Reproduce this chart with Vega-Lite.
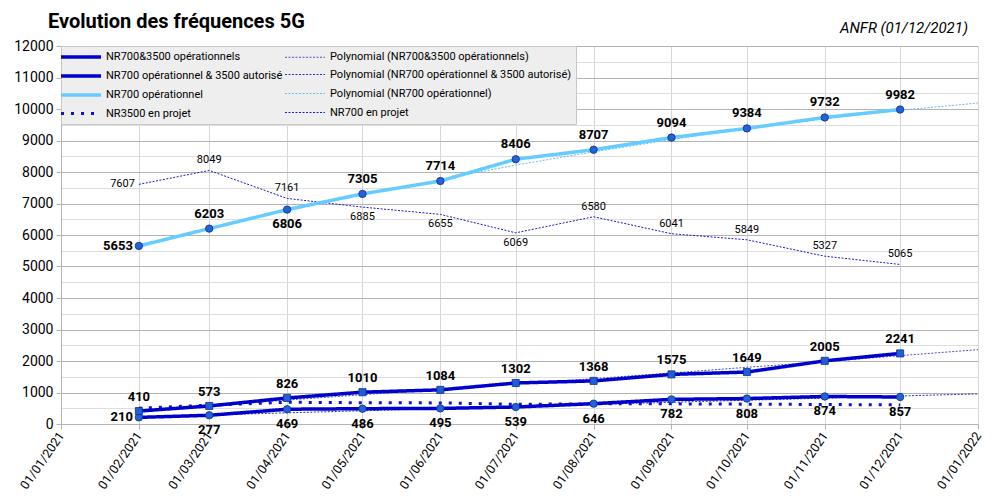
{
  "$schema": "https://vega.github.io/schema/vega-lite/v6.json",
  "width": 917,
  "height": 378,
  "autosize": {"type": "none"},
  "padding": {"left": 61, "top": 46, "right": 25, "bottom": 75},
  "background": "white",
  "config": {
    "view": {"stroke": null},
    "font": "Roboto"
  },
  "title": {
    "text": "Evolution des fréquences 5G",
    "anchor": "start",
    "frame": "group",
    "font": "Roboto",
    "fontSize": 20,
    "fontWeight": "bold",
    "color": "black",
    "dx": -13,
    "offset": -11
  },
  "data": {
    "values": [
      {"d": "2021-02-01", "s": "Polynomial (NR700&3500 opérationnels)", "v": 400},
      {"d": "2021-03-01", "s": "Polynomial (NR700&3500 opérationnels)", "v": 580},
      {"d": "2021-04-01", "s": "Polynomial (NR700&3500 opérationnels)", "v": 760},
      {"d": "2021-05-01", "s": "Polynomial (NR700&3500 opérationnels)", "v": 930},
      {"d": "2021-06-01", "s": "Polynomial (NR700&3500 opérationnels)", "v": 1100},
      {"d": "2021-07-01", "s": "Polynomial (NR700&3500 opérationnels)", "v": 1270},
      {"d": "2021-08-01", "s": "Polynomial (NR700&3500 opérationnels)", "v": 1440},
      {"d": "2021-09-01", "s": "Polynomial (NR700&3500 opérationnels)", "v": 1620},
      {"d": "2021-10-01", "s": "Polynomial (NR700&3500 opérationnels)", "v": 1800},
      {"d": "2021-11-01", "s": "Polynomial (NR700&3500 opérationnels)", "v": 1980},
      {"d": "2021-12-01", "s": "Polynomial (NR700&3500 opérationnels)", "v": 2170},
      {"d": "2022-01-01", "s": "Polynomial (NR700&3500 opérationnels)", "v": 2360},
      {"d": "2021-02-01", "s": "Polynomial (NR700 opérationnel & 3500 autorisé)", "v": 215},
      {"d": "2021-03-01", "s": "Polynomial (NR700 opérationnel & 3500 autorisé)", "v": 285},
      {"d": "2021-04-01", "s": "Polynomial (NR700 opérationnel & 3500 autorisé)", "v": 355},
      {"d": "2021-05-01", "s": "Polynomial (NR700 opérationnel & 3500 autorisé)", "v": 420},
      {"d": "2021-06-01", "s": "Polynomial (NR700 opérationnel & 3500 autorisé)", "v": 490},
      {"d": "2021-07-01", "s": "Polynomial (NR700 opérationnel & 3500 autorisé)", "v": 555},
      {"d": "2021-08-01", "s": "Polynomial (NR700 opérationnel & 3500 autorisé)", "v": 620},
      {"d": "2021-09-01", "s": "Polynomial (NR700 opérationnel & 3500 autorisé)", "v": 690},
      {"d": "2021-10-01", "s": "Polynomial (NR700 opérationnel & 3500 autorisé)", "v": 755},
      {"d": "2021-11-01", "s": "Polynomial (NR700 opérationnel & 3500 autorisé)", "v": 820},
      {"d": "2021-12-01", "s": "Polynomial (NR700 opérationnel & 3500 autorisé)", "v": 890},
      {"d": "2022-01-01", "s": "Polynomial (NR700 opérationnel & 3500 autorisé)", "v": 955},
      {"d": "2021-02-01", "s": "Polynomial (NR700 opérationnel)", "v": 5640},
      {"d": "2021-03-01", "s": "Polynomial (NR700 opérationnel)", "v": 6220},
      {"d": "2021-04-01", "s": "Polynomial (NR700 opérationnel)", "v": 6770},
      {"d": "2021-05-01", "s": "Polynomial (NR700 opérationnel)", "v": 7280},
      {"d": "2021-06-01", "s": "Polynomial (NR700 opérationnel)", "v": 7760},
      {"d": "2021-07-01", "s": "Polynomial (NR700 opérationnel)", "v": 8220},
      {"d": "2021-08-01", "s": "Polynomial (NR700 opérationnel)", "v": 8640},
      {"d": "2021-09-01", "s": "Polynomial (NR700 opérationnel)", "v": 9030},
      {"d": "2021-10-01", "s": "Polynomial (NR700 opérationnel)", "v": 9380},
      {"d": "2021-11-01", "s": "Polynomial (NR700 opérationnel)", "v": 9690},
      {"d": "2021-12-01", "s": "Polynomial (NR700 opérationnel)", "v": 9960},
      {"d": "2022-01-01", "s": "Polynomial (NR700 opérationnel)", "v": 10190},
      {"d": "2021-02-01", "s": "NR700 en projet", "v": 7607},
      {"d": "2021-03-01", "s": "NR700 en projet", "v": 8049},
      {"d": "2021-04-01", "s": "NR700 en projet", "v": 7161},
      {"d": "2021-05-01", "s": "NR700 en projet", "v": 6885},
      {"d": "2021-06-01", "s": "NR700 en projet", "v": 6655},
      {"d": "2021-07-01", "s": "NR700 en projet", "v": 6069},
      {"d": "2021-08-01", "s": "NR700 en projet", "v": 6580},
      {"d": "2021-09-01", "s": "NR700 en projet", "v": 6041},
      {"d": "2021-10-01", "s": "NR700 en projet", "v": 5849},
      {"d": "2021-11-01", "s": "NR700 en projet", "v": 5327},
      {"d": "2021-12-01", "s": "NR700 en projet", "v": 5065},
      {"d": "2021-02-01", "s": "NR3500 en projet", "v": 500},
      {"d": "2021-03-01", "s": "NR3500 en projet", "v": 600},
      {"d": "2021-04-01", "s": "NR3500 en projet", "v": 690},
      {"d": "2021-05-01", "s": "NR3500 en projet", "v": 675},
      {"d": "2021-06-01", "s": "NR3500 en projet", "v": 670},
      {"d": "2021-07-01", "s": "NR3500 en projet", "v": 625},
      {"d": "2021-08-01", "s": "NR3500 en projet", "v": 640},
      {"d": "2021-09-01", "s": "NR3500 en projet", "v": 640},
      {"d": "2021-10-01", "s": "NR3500 en projet", "v": 630},
      {"d": "2021-11-01", "s": "NR3500 en projet", "v": 618},
      {"d": "2021-12-01", "s": "NR3500 en projet", "v": 606},
      {"d": "2021-02-01", "s": "NR700 opérationnel", "v": 5653},
      {"d": "2021-03-01", "s": "NR700 opérationnel", "v": 6203},
      {"d": "2021-04-01", "s": "NR700 opérationnel", "v": 6806},
      {"d": "2021-05-01", "s": "NR700 opérationnel", "v": 7305},
      {"d": "2021-06-01", "s": "NR700 opérationnel", "v": 7714},
      {"d": "2021-07-01", "s": "NR700 opérationnel", "v": 8406},
      {"d": "2021-08-01", "s": "NR700 opérationnel", "v": 8707},
      {"d": "2021-09-01", "s": "NR700 opérationnel", "v": 9094},
      {"d": "2021-10-01", "s": "NR700 opérationnel", "v": 9384},
      {"d": "2021-11-01", "s": "NR700 opérationnel", "v": 9732},
      {"d": "2021-12-01", "s": "NR700 opérationnel", "v": 9982},
      {"d": "2021-02-01", "s": "NR700 opérationnel & 3500 autorisé", "v": 210},
      {"d": "2021-03-01", "s": "NR700 opérationnel & 3500 autorisé", "v": 277},
      {"d": "2021-04-01", "s": "NR700 opérationnel & 3500 autorisé", "v": 469},
      {"d": "2021-05-01", "s": "NR700 opérationnel & 3500 autorisé", "v": 486},
      {"d": "2021-06-01", "s": "NR700 opérationnel & 3500 autorisé", "v": 495},
      {"d": "2021-07-01", "s": "NR700 opérationnel & 3500 autorisé", "v": 539},
      {"d": "2021-08-01", "s": "NR700 opérationnel & 3500 autorisé", "v": 646},
      {"d": "2021-09-01", "s": "NR700 opérationnel & 3500 autorisé", "v": 782},
      {"d": "2021-10-01", "s": "NR700 opérationnel & 3500 autorisé", "v": 808},
      {"d": "2021-11-01", "s": "NR700 opérationnel & 3500 autorisé", "v": 874},
      {"d": "2021-12-01", "s": "NR700 opérationnel & 3500 autorisé", "v": 857},
      {"d": "2021-02-01", "s": "NR700&3500 opérationnels", "v": 410},
      {"d": "2021-03-01", "s": "NR700&3500 opérationnels", "v": 573},
      {"d": "2021-04-01", "s": "NR700&3500 opérationnels", "v": 826},
      {"d": "2021-05-01", "s": "NR700&3500 opérationnels", "v": 1010},
      {"d": "2021-06-01", "s": "NR700&3500 opérationnels", "v": 1084},
      {"d": "2021-07-01", "s": "NR700&3500 opérationnels", "v": 1302},
      {"d": "2021-08-01", "s": "NR700&3500 opérationnels", "v": 1368},
      {"d": "2021-09-01", "s": "NR700&3500 opérationnels", "v": 1575},
      {"d": "2021-10-01", "s": "NR700&3500 opérationnels", "v": 1649},
      {"d": "2021-11-01", "s": "NR700&3500 opérationnels", "v": 2005},
      {"d": "2021-12-01", "s": "NR700&3500 opérationnels", "v": 2241}
    ]
  },
  "encoding": {
    "x": {
      "field": "d",
      "type": "temporal",
      "scale": {
        "type": "utc",
        "nice": false,
        "domain": [
          {"year": 2021, "month": 1, "date": 1, "utc": true},
          {"year": 2022, "month": 1, "date": 1, "utc": true}
        ]
      },
      "axis": {
        "title": null,
        "format": "%d/%m/%Y",
        "tickCount": {"interval": "month", "step": 1},
        "labelAngle": -55,
        "labelAlign": "right",
        "labelBaseline": "middle",
        "labelFontSize": 12.5,
        "labelColor": "black",
        "labelPadding": 4,
        "labelOverlap": false,
        "labelFlush": false,
        "labelBound": false,
        "grid": true,
        "gridColor": "#d6d6d6",
        "domainColor": "#b3b3b3",
        "tickColor": "#b3b3b3",
        "tickSize": 5
      }
    },
    "y": {
      "field": "v",
      "type": "quantitative",
      "scale": {"domain": [0, 12000], "nice": false},
      "axis": {
        "title": null,
        "format": "d",
        "values": [0, 500, 1000, 1500, 2000, 2500, 3000, 3500, 4000, 4500, 5000, 5500, 6000, 6500, 7000, 7500, 8000, 8500, 9000, 9500, 10000, 10500, 11000, 11500, 12000],
        "labelExpr": "datum.value % 1000 === 0 ? datum.label : ''",
        "labelFontSize": 14,
        "labelColor": "black",
        "labelPadding": 3,
        "grid": true,
        "gridColor": {"condition": {"test": "datum.value % 1000 === 0", "value": "#b3b3b3"}, "value": "#dedede"},
        "tickOpacity": {"condition": {"test": "datum.value % 1000 === 0", "value": 1}, "value": 0},
        "domainColor": "#b3b3b3",
        "tickColor": "#b3b3b3",
        "tickSize": 5
      }
    }
  },
  "layer": [
    {
      "mark": {"type": "line", "strokeCap": "butt"},
      "encoding": {
        "color": {
          "field": "s",
          "type": "nominal",
          "sort": null,
          "scale": {
            "domain": ["NR700&3500 opérationnels", "Polynomial (NR700&3500 opérationnels)", "NR700 opérationnel & 3500 autorisé", "Polynomial (NR700 opérationnel & 3500 autorisé)", "NR700 opérationnel", "Polynomial (NR700 opérationnel)", "NR3500 en projet", "NR700 en projet"],
            "range": ["#0000cc", "#5050c8", "#0000cc", "#3030a8", "#66ccff", "#66bbf0", "#1010dd", "#1a1acc"]
          },
          "legend": {
            "title": null,
            "orient": "top-left",
            "offset": 0,
            "columns": 2,
            "direction": "horizontal",
            "symbolType": "M-2.2,0H5.8",
            "symbolSize": 100,
            "labelFont": "Roboto",
            "labelFontSize": 11,
            "labelColor": "black",
            "labelOffset": 27,
            "labelLimit": 400,
            "rowPadding": 4,
            "columnPadding": 0,
            "padding": 4,
            "fillColor": "#eeeeee",
            "strokeColor": "#c8c8c8"
          }
        },
        "strokeDash": {
          "field": "s",
          "type": "nominal",
          "sort": null,
          "scale": {
            "domain": ["NR700&3500 opérationnels", "Polynomial (NR700&3500 opérationnels)", "NR700 opérationnel & 3500 autorisé", "Polynomial (NR700 opérationnel & 3500 autorisé)", "NR700 opérationnel", "Polynomial (NR700 opérationnel)", "NR3500 en projet", "NR700 en projet"],
            "range": [[1, 0], [2, 1.5], [1, 0], [2, 1.5], [1, 0], [2, 1.5], [3, 7], [2, 1.5]]
          }
        },
        "strokeWidth": {
          "field": "s",
          "type": "nominal",
          "sort": null,
          "scale": {
            "type": "ordinal",
            "domain": ["NR700&3500 opérationnels", "Polynomial (NR700&3500 opérationnels)", "NR700 opérationnel & 3500 autorisé", "Polynomial (NR700 opérationnel & 3500 autorisé)", "NR700 opérationnel", "Polynomial (NR700 opérationnel)", "NR3500 en projet", "NR700 en projet"],
            "range": [3.5, 1, 3.5, 1, 3.5, 1, 3, 1]
          }
        }
      }
    },
    {
      "transform": [{"filter": "datum.s === 'NR700 opérationnel' || datum.s === 'NR700 opérationnel & 3500 autorisé'"}],
      "mark": {"type": "point", "shape": "circle", "filled": true, "size": 55, "color": "#2462d8", "stroke": "#0b2f8f", "strokeWidth": 0.8, "opacity": 1}
    },
    {
      "transform": [{"filter": "datum.s === 'NR700&3500 opérationnels'"}],
      "mark": {"type": "point", "shape": "square", "filled": true, "size": 50, "color": "#1f5ed8", "stroke": "#0b2f8f", "strokeWidth": 0.8, "opacity": 1}
    },
    {
      "transform": [{"filter": "datum.s === 'NR700&3500 opérationnels'"}],
      "mark": {"type": "text", "font": "Roboto", "fontSize": 13, "fontWeight": "bold", "color": "black", "baseline": "middle", "dy": -14},
      "encoding": {"text": {"field": "v", "type": "quantitative", "format": "d"}}
    },
    {
      "transform": [{"filter": "datum.s === 'NR700 opérationnel & 3500 autorisé' && utcmonth(datum.d) !== 1"}],
      "mark": {"type": "text", "font": "Roboto", "fontSize": 13, "fontWeight": "bold", "color": "black", "baseline": "middle", "dy": 15},
      "encoding": {"text": {"field": "v", "type": "quantitative", "format": "d"}}
    },
    {
      "transform": [{"filter": "datum.s === 'NR700 opérationnel & 3500 autorisé' && utcmonth(datum.d) === 1"}],
      "mark": {"type": "text", "font": "Roboto", "fontSize": 13, "fontWeight": "bold", "color": "black", "baseline": "middle", "align": "right", "dx": -6},
      "encoding": {"text": {"field": "v", "type": "quantitative", "format": "d"}}
    },
    {
      "transform": [{"filter": "datum.s === 'NR700 opérationnel' && utcmonth(datum.d) !== 1 && utcmonth(datum.d) !== 3"}],
      "mark": {"type": "text", "font": "Roboto", "fontSize": 13, "fontWeight": "bold", "color": "black", "baseline": "middle", "dy": -15},
      "encoding": {"text": {"field": "v", "type": "quantitative", "format": "d"}}
    },
    {
      "transform": [{"filter": "datum.s === 'NR700 opérationnel' && utcmonth(datum.d) === 3"}],
      "mark": {"type": "text", "font": "Roboto", "fontSize": 13, "fontWeight": "bold", "color": "black", "baseline": "middle", "dy": 14},
      "encoding": {"text": {"field": "v", "type": "quantitative", "format": "d"}}
    },
    {
      "transform": [{"filter": "datum.s === 'NR700 opérationnel' && utcmonth(datum.d) === 1"}],
      "mark": {"type": "text", "font": "Roboto", "fontSize": 13, "fontWeight": "bold", "color": "black", "baseline": "middle", "align": "right", "dx": -6},
      "encoding": {"text": {"field": "v", "type": "quantitative", "format": "d"}}
    },
    {
      "transform": [{"filter": "datum.s === 'NR700 en projet' && utcmonth(datum.d) === 1"}],
      "mark": {"type": "text", "font": "Roboto", "fontSize": 11, "color": "black", "baseline": "middle", "align": "right", "dx": -4},
      "encoding": {"text": {"field": "v", "type": "quantitative", "format": "d"}}
    },
    {
      "transform": [{"filter": "datum.s === 'NR700 en projet' && (utcmonth(datum.d) === 2 || utcmonth(datum.d) === 3 || utcmonth(datum.d) >= 7)"}],
      "mark": {"type": "text", "font": "Roboto", "fontSize": 11, "color": "black", "baseline": "middle", "dy": -10},
      "encoding": {"text": {"field": "v", "type": "quantitative", "format": "d"}}
    },
    {
      "transform": [{"filter": "datum.s === 'NR700 en projet' && utcmonth(datum.d) >= 4 && utcmonth(datum.d) <= 6"}],
      "mark": {"type": "text", "font": "Roboto", "fontSize": 11, "color": "black", "baseline": "middle", "dy": 10},
      "encoding": {"text": {"field": "v", "type": "quantitative", "format": "d"}}
    },
    {
      "transform": [{"filter": "datum.s === 'NR700 opérationnel' && utcmonth(datum.d) === 11"}],
      "mark": {"type": "text", "font": "Roboto", "fontSize": 15, "fontStyle": "italic", "color": "black", "align": "right", "baseline": "middle", "dx": -10, "dy": -18},
      "encoding": {
        "x": {"datum": {"year": 2022, "month": 1, "date": 1, "utc": true}, "type": "temporal"},
        "y": {"datum": 12000, "type": "quantitative"},
        "text": {"value": "ANFR (01/12/2021)"}
      }
    }
  ]
}
